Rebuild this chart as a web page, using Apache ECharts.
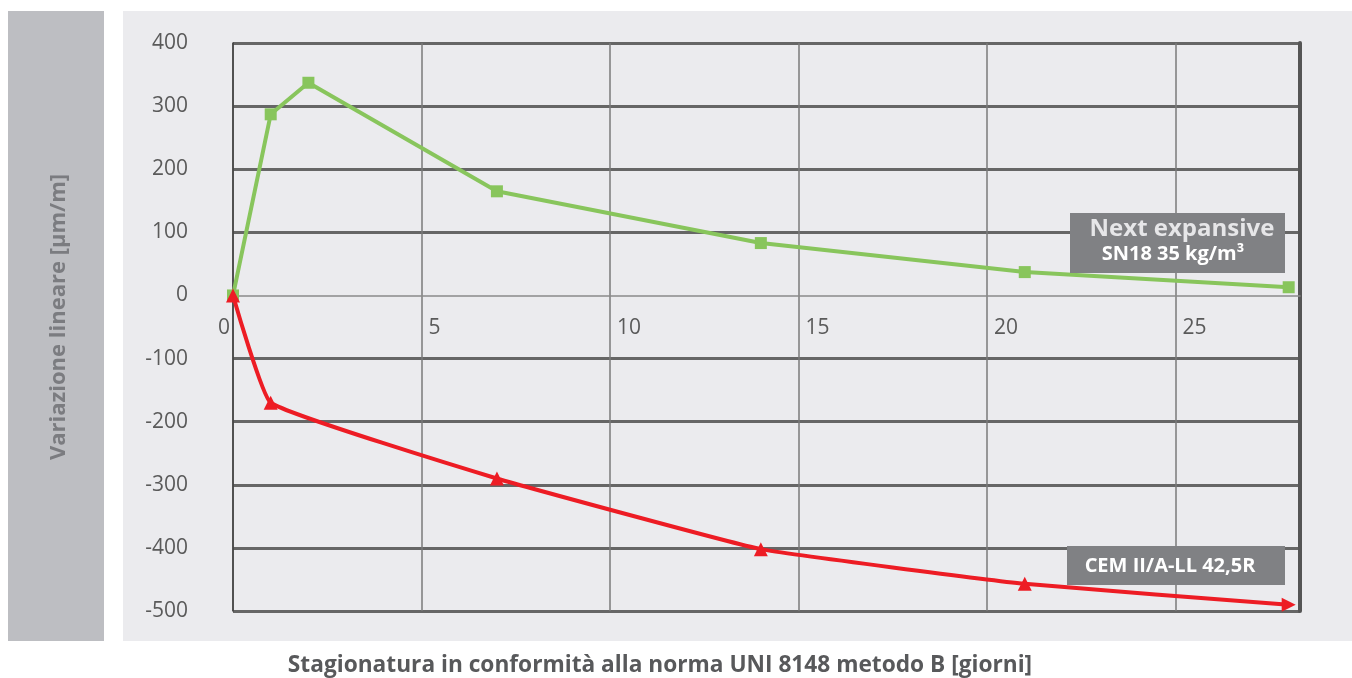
<!DOCTYPE html>
<html>
<head>
<meta charset="utf-8">
<script src="https://cdn.jsdelivr.net/npm/echarts@6/dist/echarts.min.js"></script>
<style>
html,body{margin:0;padding:0;background:#fff;}
#chart{width:1352px;height:678px;}
</style>
</head>
<body>
<div id="chart"></div>
<script>
// Data
const greenDays = [0, 1, 2, 7, 14, 21, 28];
const greenValues = [0, 287, 337, 165, 83, 37, 13];
const redDays = [0, 1, 7, 14, 21, 28];
const redValues = [0, -170, -290, -402, -457, -490];
const greenName = 'Next expansive SN18 35 kg/m³';
const redName = 'CEM II/A-LL 42,5R';
const yTitle = 'Variazione lineare [µm/m]';
const xTitle = 'Stagionatura in conformità alla norma UNI 8148 metodo B [giorni]';
const yMin = -500, yMax = 400, yStep = 100;
const xMin = 0, xMax = 28.3, xStep = 5;

const FONT = '"Open Sans", "Noto Sans", sans-serif';
const chart = echarts.init(document.getElementById('chart'), null, {renderer: 'canvas'});

const gridTop = 43, gridBottom = 67, H = 678;
const plotH = H - gridTop - gridBottom;
// offset of the x axis from the grid bottom up to the zero line
const zeroOffset = -plotH * (0 - yMin) / (yMax - yMin);

const splitColors = [];
for (let v = yMin; v <= yMax; v += yStep) splitColors.push(v === 0 ? 'rgba(0,0,0,0)' : '#666666');

const xCommon = {
  type: 'value', min: xMin, max: xMax, interval: xStep, position: 'bottom',
  offset: zeroOffset,
  axisTick: {show: false}
};

const option = {
  backgroundColor: '#ffffff',
  animation: false,
  grid: {left: 233, right: 52, top: gridTop, bottom: gridBottom, containLabel: false},
  graphic: [
    {type: 'rect', z: -10, shape: {x: 8, y: 11, width: 96, height: 630}, style: {fill: '#bdbec2'}},
    {type: 'rect', z: -10, shape: {x: 123, y: 11, width: 1229, height: 630}, style: {fill: '#ebebee'}},
    {type: 'text', z: 10, x: 660, y: 666, style: {text: xTitle, font: 'bold 22.7px ' + FONT, fill: '#58595b', align: 'center', verticalAlign: 'middle'}},
    {type: 'rect', z: 100, shape: {x: 1070, y: 213, width: 215, height: 60}, style: {fill: '#808184'}},
    {type: 'text', z: 101, x: 1182, y: 229, style: {text: 'Next expansive', font: 'bold 24px ' + FONT, fill: '#e6e6e8', align: 'center', verticalAlign: 'middle'}},
    {type: 'text', z: 101, x: 1173, y: 254, style: {text: 'SN18 35 kg/m³', font: 'bold 20px ' + FONT, fill: '#ffffff', align: 'center', verticalAlign: 'middle'}},
    {type: 'rect', z: 100, shape: {x: 1067, y: 546, width: 218, height: 39}, style: {fill: '#808184'}},
    {type: 'text', z: 101, x: 1170, y: 566, style: {text: redName, font: 'bold 20px ' + FONT, fill: '#ffffff', align: 'center', verticalAlign: 'middle'}}
  ],
  xAxis: [
    Object.assign({}, xCommon, {
      axisLine: {show: true, onZero: false, lineStyle: {color: '#8a8a8a', width: 1.5}},
      splitLine: {show: true, lineStyle: {color: '#7a7a7a', width: 1.5}},
      axisLabel: {
        show: true, margin: 22, align: 'left', padding: [0, 0, 0, 7],
        color: '#5a5a5a', fontFamily: FONT, fontSize: 21,
        showMaxLabel: false,
        formatter: v => (v === 0 ? '' : String(v))
      }
    }),
    Object.assign({}, xCommon, {
      axisLine: {show: false, onZero: false},
      splitLine: {show: false},
      axisLabel: {
        show: true, margin: 22, align: 'right', padding: [0, 3, 0, 0],
        color: '#5a5a5a', fontFamily: FONT, fontSize: 21,
        showMaxLabel: false,
        formatter: v => (v === 0 ? '0' : '')
      }
    })
  ],
  yAxis: [
    {
      type: 'value', min: yMin, max: yMax, interval: yStep, position: 'left',
      name: yTitle, nameLocation: 'middle', nameGap: 163, nameRotate: 90,
      nameTextStyle: {color: '#7b7c80', fontFamily: FONT, fontSize: 22, fontWeight: 'bold', padding: [0, 0, 0, 20]},
      axisLine: {show: true, onZero: false, lineStyle: {color: '#3a3a3a', width: 1.5}},
      axisTick: {show: false},
      axisLabel: {margin: 45, color: '#5a5a5a', fontFamily: FONT, fontSize: 21},
      splitLine: {show: true, lineStyle: {color: splitColors, width: 3}}
    },
    {
      type: 'value', min: yMin, max: yMax, interval: yStep, position: 'right',
      axisLine: {show: true, onZero: false, lineStyle: {color: '#555555', width: 4}},
      axisTick: {show: false},
      axisLabel: {show: false},
      splitLine: {show: false}
    }
  ],
  series: [
    {
      name: greenName, type: 'line', xAxisIndex: 0, yAxisIndex: 0,
      data: greenDays.map((d, i) => [d, greenValues[i]]),
      smooth: false,
      symbol: 'rect', symbolSize: 12,
      lineStyle: {color: '#88c55c', width: 4},
      itemStyle: {color: '#88c55c'},
      z: 3
    },
    {
      name: redName, type: 'line', xAxisIndex: 0, yAxisIndex: 0,
      data: redDays.map((d, i) => [d, redValues[i]]),
      smooth: 0.1,
      symbol: 'triangle', symbolSize: 14,
      symbolRotate: (val, p) => (p.dataIndex === redDays.length - 1 ? -90 : 0),
      lineStyle: {color: '#ed1c24', width: 4},
      itemStyle: {color: '#ed1c24'},
      z: 4
    }
  ]
};
chart.setOption(option);
</script>
</body>
</html>
